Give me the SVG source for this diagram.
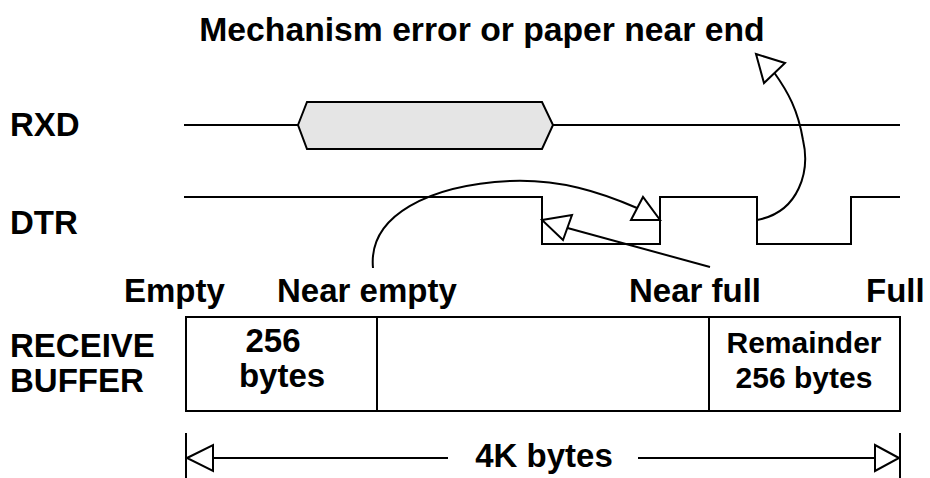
<svg xmlns="http://www.w3.org/2000/svg" width="930" height="478" viewBox="0 0 930 478">
<style>
  text { font-family: "Liberation Sans", Arial, sans-serif; font-weight: bold; fill: #000; }
  .lbl { font-size: 33px; }
  .title { font-size: 33.7px; }
  .big { font-size: 33px; }
  .small { font-size: 30px; }
  .sig { fill: none; stroke: #000; stroke-width: 2; }
  .box { fill: #fff; stroke: #000; stroke-width: 2; }
  .conn { fill: none; stroke: #000; stroke-width: 2; }
  .ah { fill: #fff; stroke: #000; stroke-width: 2; stroke-linejoin: miter; }
</style>
<rect width="930" height="478" fill="#fff"/>

<g id="title">
  <text class="title" x="482" y="41" text-anchor="middle">Mechanism error or paper near end</text>
</g>

<g id="rxd">
  <text class="lbl" x="10" y="136">RXD</text>
  <polyline class="sig" points="184,125 298,125"/>
  <polygon points="298,125 307,102 542,102 553,125 542,149 307,149" fill="#e5e5e5" stroke="#000" stroke-width="2"/>
  <polyline class="sig" points="553,125 900,125"/>
</g>

<g id="dtr">
  <text class="lbl" x="10" y="234">DTR</text>
  <polyline class="sig" points="184,197 542,197 542,244 660,244 660,197 757,197 757,244 851,244 851,197 900,197"/>
</g>

<g id="levels">
  <text class="lbl" x="124" y="302">Empty</text>
  <text class="lbl" x="277" y="302">Near empty</text>
  <text class="lbl" x="629" y="302">Near full</text>
  <text class="lbl" x="866" y="302">Full</text>
</g>

<g id="buffer">
  <text class="lbl" x="10" y="357">RECEIVE</text>
  <text class="lbl" x="10" y="392">BUFFER</text>
  <rect class="box" x="186" y="317" width="714" height="94"/>
  <line class="sig" x1="377" y1="317" x2="377" y2="411"/>
  <line class="sig" x1="709" y1="317" x2="709" y2="411"/>
  <text class="big" x="273" y="352" text-anchor="middle">256</text>
  <text class="big" x="282" y="387" text-anchor="middle">bytes</text>
  <text class="small" x="804" y="353" text-anchor="middle">Remainder</text>
  <text class="small" x="804" y="388" text-anchor="middle">256 bytes</text>
</g>

<g id="dimension">
  <line class="sig" x1="186" y1="433" x2="186" y2="478"/>
  <line class="sig" x1="900" y1="433" x2="900" y2="478"/>
  <line class="sig" x1="213" y1="458" x2="448" y2="458"/>
  <line class="sig" x1="638" y1="458" x2="875" y2="458"/>
  <polygon class="ah" points="187,458 213,445 213,471"/>
  <polygon class="ah" points="899,458 875,445 875,471"/>
  <text class="big" x="544" y="467" text-anchor="middle">4K bytes</text>
</g>

<g id="connectors">
  <path class="conn" d="M373,268 C368,215 430,185 510,181 C560,179 600,192 637,208"/>
  <polygon class="ah" points="660,220 631,220 643,197"/>
  <path class="conn" d="M710,267 L567.5,228"/>
  <polygon class="ah" points="542,220 572,215 563,240"/>
  <path class="conn" d="M757,220 C800,212 810,170 803,140 C798,110 788,92 774.5,73"/>
  <polygon class="ah" points="756,54 785,63 764,83"/>
</g>
</svg>
